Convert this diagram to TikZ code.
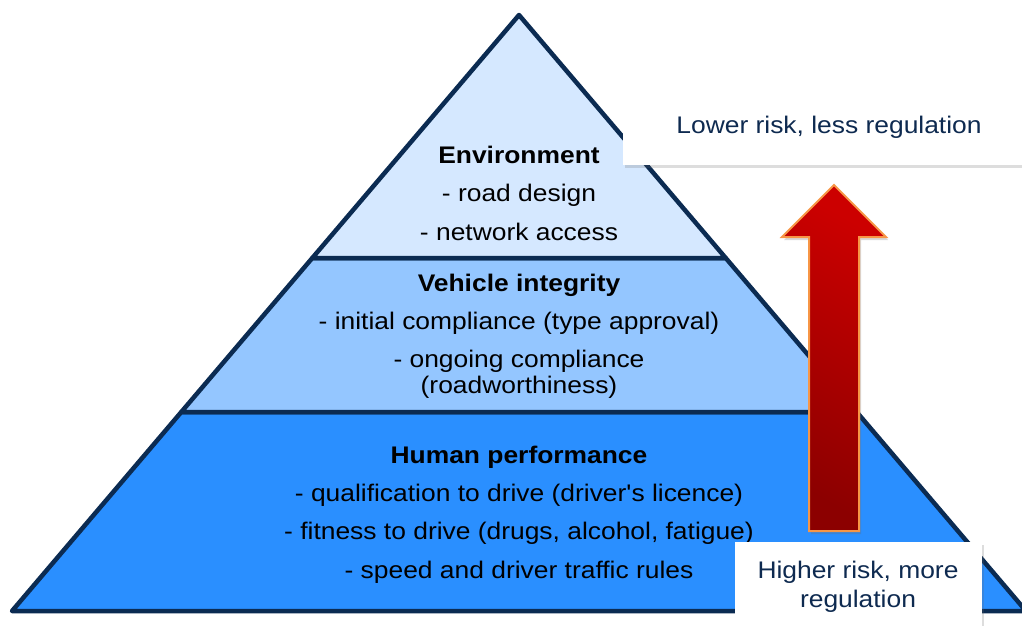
\documentclass[tikz,border=0pt]{standalone}
\usepackage{fontspec}
\setmainfont{Liberation Sans}[FakeStretch=1.1, Ligatures=TeXOff]
\usetikzlibrary{shadows}
\definecolor{edgeblue}{RGB}{11,43,82}
\definecolor{tiertop}{RGB}{213,232,255}
\definecolor{tiermid}{RGB}{148,198,255}
\definecolor{tierbot}{RGB}{42,143,255}
\definecolor{navytext}{RGB}{14,42,80}
\definecolor{arrowbright}{RGB}{204,0,0}
\definecolor{arrowdark}{RGB}{140,0,0}
\definecolor{arroworange}{RGB}{247,150,70}
\tikzset{
  tier/.style={draw=edgeblue, line width=4.5pt, line join=round},
  lbl/.style={inner sep=0pt, anchor=base, font=\fontsize{24}{28}\selectfont, text=black},
  ttl/.style={lbl, font=\fontsize{24}{28}\selectfont\bfseries},
  boxlbl/.style={lbl, text=navytext},
  riskbox/.style={fill=white, draw=none, inner sep=0pt, anchor=north west,
    drop shadow={shadow xshift=1.5pt, shadow yshift=-3pt, opacity=0.22, fill=black!60}},
  bigarrow/.style={draw=arroworange, line width=2pt, line join=miter,
    top color=arrowbright, bottom color=arrowdark, shading angle=-30,
    drop shadow={shadow xshift=2pt, shadow yshift=-3pt, opacity=0.25, fill=black!60}}
}
\begin{document}
\begin{tikzpicture}[x=1pt,y=-1pt]
\useasboundingbox (0,0) rectangle (1022,625);
\clip (0,0) rectangle (1022,625);
% tiers of the pyramid
\path[tier, fill=tierbot] (181.3,412) -- (856.7,412) -- (1026,611) -- (12,611) -- cycle;
\path[tier, fill=tiermid] (312.3,258) -- (725.7,258) -- (856.7,412) -- (181.3,412) -- cycle;
\path[tier, fill=tiertop] (519,15) -- (725.7,258) -- (312.3,258) -- cycle;
% environment
\node[ttl] (env) at (519,163) {Environment};
\node[lbl] (env1) at (519,201) {- road design};
\node[lbl] (env2) at (519,240) {- network access};
% vehicle
\node[ttl] (veh) at (519,291) {Vehicle integrity};
\node[lbl] (veh1) at (519,329) {- initial compliance (type approval)};
\node[lbl] (veh2) at (519,367) {- ongoing compliance};
\node[lbl] (veh3) at (519,393) {(roadworthiness)};
% human
\node[ttl] (hum) at (519,463) {Human performance};
\node[lbl] (hum1) at (519,501) {- qualification to drive (driver's licence)};
\node[lbl] (hum2) at (519,539) {- fitness to drive (drugs, alcohol, fatigue)};
\node[lbl] (hum3) at (519,578) {- speed and driver traffic rules};
% arrow
\path[bigarrow] (834,185) -- (886,237) -- (859,237) -- (859,531) -- (809,531) -- (809,237) -- (782,237) -- cycle;
% boxes
\node[riskbox, minimum width=420pt, minimum height=80pt] (lowbox) at (623,85) {};
\node[boxlbl] (lowtxt) at (829,133) {Lower risk, less regulation};
\node[riskbox, minimum width=247pt, minimum height=95pt] (highbox) at (735,542) {};
\node[boxlbl] (hightxt1) at (858,578) {Higher risk, more};
\node[boxlbl] (hightxt2) at (858,607) {regulation};
\end{tikzpicture}
\end{document}
